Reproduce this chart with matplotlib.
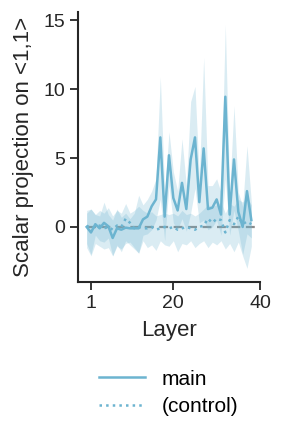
import numpy as np
import matplotlib
matplotlib.use("Agg")
import matplotlib.pyplot as plt

plt.rcParams['font.family'] = ['Liberation Sans', 'DejaVu Sans']

layers = np.arange(0, 39)

main = [0.0, -0.4, 0.2, -0.1, 0.3, 0.05, -0.8, -0.1, -0.2, -0.05, -0.1, -0.1, -0.1,
        0.55, 0.75, 1.5, 2.0, 6.5, 0.75, 5.2, 2.1, 1.2, 3.2, 1.3, 4.9, 6.5, 1.8, 5.7,
        1.3, 1.4, 2.0, 0.9, 9.45, 0.9, 4.9, 1.1, 0.0, 2.6, 0.5]
main_hi = [1.2, 1.3, 0.9, 0.8, 1.8, 0.9, 0.5, 1.3, 0.7, 1.0, 0.6, 1.0, 2.3,
           1.6, 2.0, 2.6, 3.5, 10.9, 2.5, 6.9, 4.0, 2.6, 6.4, 3.0, 9.1, 10.2, 3.5, 12.3,
           3.0, 3.0, 3.5, 2.5, 14.7, 2.5, 8.8, 2.5, 1.5, 5.9, 1.8]
main_lo = [-1.2, -2.0, -0.6, -1.0, -1.1, -0.8, -2.1, -1.4, -1.6, -1.2, -1.1, -1.5, -1.9,
           -0.6, -0.5, -0.2, 0.5, 2.0, -1.0, 3.0, 0.3, -0.2, 0.6, -0.3, 1.0, 2.8, 0.3, 0.5,
           -0.2, 0.0, 0.5, -0.6, 3.5, -0.6, 1.2, -0.3, -2.0, -0.5, -0.8]

ctrl = [0.1, -0.1, 0.0, 0.1, -0.1, 0.0, -0.2, 0.1, 0.0, 0.6, 0.3, -0.1, 0.0,
        -0.1, -0.1, 0.0, -0.2, -0.1, 0.0, -0.1, 0.0, -0.2, -0.1, 0.0, -0.1, -0.2, 0.0, 0.1,
        0.6, 0.3, 0.6, 0.5, -0.4, 0.5, 0.2, 0.75, 0.2, 0.4, 0.2]
ctrl_hi = [1.0, 1.3, 0.9, 1.2, 1.0, 1.4, 0.8, 1.2, 1.0, 1.7, 1.0, 1.2, 1.5,
           1.2, 1.0, 1.1, 0.8, 0.9, 1.0, 0.9, 1.0, 0.8, 1.2, 0.9, 1.0, 0.8, 1.0, 1.3,
           1.6, 1.5, 1.6, 1.8, 1.0, 1.7, 1.5, 2.0, 1.8, 2.2, 1.6]
ctrl_lo = [-1.5, -2.1, -1.2, -1.4, -1.6, -1.5, -2.1, -1.3, -1.8, -1.0, -1.3, -1.6, -1.9,
           -1.0, -1.5, -1.3, -1.7, -1.0, -1.3, -1.4, -1.0, -1.8, -1.2, -1.3, -1.0, -1.5, -1.2, -1.0,
           -1.5, -1.1, -1.3, -1.0, -1.6, -1.2, -1.8, -1.1, -2.1, -3.0, -1.4]

color = '#6cb4d0'
dark = '#262626'

fig = plt.figure(figsize=(2.83, 4.38), dpi=100)
ax = fig.add_axes([0.2756, 0.356, 0.6431, 0.6166])

# zero reference line
ax.plot([0, 40], [0, 0], color='#8c8c8c', lw=1.6, ls=(0, (4, 2.5)), zorder=1)
ax.fill_between(layers, ctrl_lo, ctrl_hi, color=color, alpha=0.25, lw=0)
ax.fill_between(layers, main_lo, main_hi, color=color, alpha=0.25, lw=0)
ax.plot(layers, ctrl, color=color, lw=1.8, ls=':', label='(control)')
ax.plot(layers, main, color=color, lw=1.8, label='main')

ax.set_xlim(-2, 40)
ax.set_ylim(-4, 15.6)
ax.set_xticks([1, 20, 40])
ax.set_yticks([0, 5, 10, 15])
ax.set_xlabel('Layer', fontsize=16, color=dark, labelpad=6)
ax.set_ylabel('Scalar projection on <1,1>', fontsize=16, color=dark, labelpad=7)
ax.tick_params(labelsize=14, colors=dark, length=6, width=1.3, pad=3)
for s in ['top', 'right']:
    ax.spines[s].set_visible(False)
for s in ['left', 'bottom']:
    ax.spines[s].set_linewidth(1.5)
    ax.spines[s].set_color(dark)

h, l = ax.get_legend_handles_labels()
fig.legend([h[1], h[0]], [l[1], l[0]], loc='upper left', bbox_to_anchor=(0.32, 0.175),
           frameon=False, fontsize=15, handlelength=2.2, handletextpad=0.8,
           labelspacing=0.4, borderaxespad=0)

fig.savefig('out.png', dpi=100)
